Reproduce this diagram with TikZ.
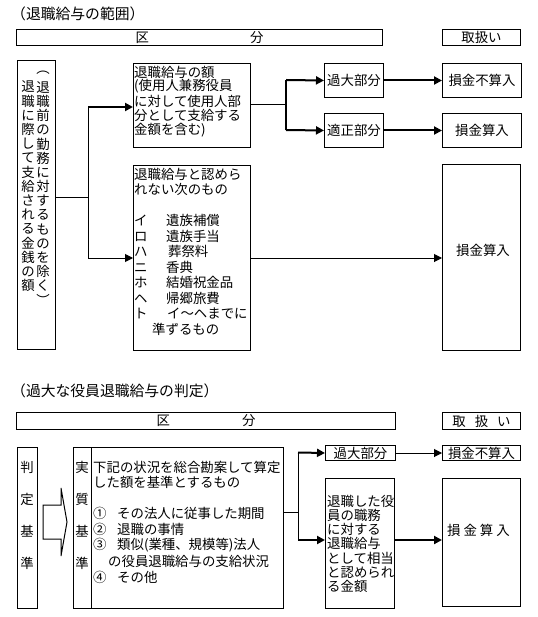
\documentclass[tikz,border=0pt]{standalone}
\usepackage{fontspec}
\setmainfont{Noto Sans CJK JP}
\usetikzlibrary{arrows.meta}
\newcommand\bodyfont{\fontsize{13.4}{15}\selectfont}
\begin{document}
\begin{tikzpicture}[x=1pt,y=-1pt,
  box/.style={draw, line width=1pt, inner sep=0pt, anchor=north west, font=\bodyfont},
  txt/.style={inner sep=0pt, font=\bodyfont},
  ln/.style={txt, anchor=west},
  ttl/.style={inner sep=0pt, anchor=west, font=\fontsize{14.8}{16}\selectfont},
  thinline/.style={line width=1pt},
  heavy/.style={line width=2pt},
  arr/.style={-{Triangle[length=8pt,width=8pt]}},
]
\fill[white] (0,0) rectangle (537,617);
\useasboundingbox (0,0) rectangle (537,617);

% ---------- section 1 ----------
\node[ttl] (t1) at (11,14) {（退職給与の範囲）};
\node[box, minimum width=366pt, minimum height=16pt] (hdr1) at (16,29) {区\hspace{101pt}分};
\node[box, minimum width=78pt, minimum height=16pt] (toriA) at (442,29) {取扱い};

\node[box, minimum width=38pt, minimum height=289pt] (lbox) at (17,60) {};
\foreach \c [count=\i from 0] in {退,職,に,際,し,て,支,給,さ,れ,る,金,銭,の,額}
  \node[txt] (lc\i) at (28,{87+14.2*\i}) {\c};
\foreach \c [count=\i from 0] in {︵,退,職,前,の,勤,務,に,対,す,る,も,の,を,除,く,︶}
  \node[txt] (rc\i) at (43,{73+14.2*\i}) {\c};

\node[box, minimum width=117pt, minimum height=84pt] (b1) at (133,63) {};
\node[ln] (b1t0) at (134,72) {退職給与の額};
\node[ln] (b1t1) at (134,86.5) {(使用人兼務役員};
\node[ln] (b1t2) at (134,101) {に対して使用人部};
\node[ln] (b1t3) at (134,115.5) {分として支給する};
\node[ln] (b1t4) at (134,130) {金額を含む)};

\node[box, minimum width=117pt, minimum height=185pt] (b2) at (133,165) {};
\node[ln] (b2a) at (134,174) {退職給与と認めら};
\node[ln] (b2b) at (134,189.5) {れない次のもの};
\node[ln] (b2c) at (134,220.5) {\makebox[32pt][l]{イ}遺族補償};
\node[ln] (b2d) at (134,236) {\makebox[32pt][l]{ロ}遺族手当};
\node[ln] (b2e) at (134,251.5) {\makebox[34pt][l]{ハ}葬祭料};
\node[ln] (b2f) at (134,267) {\makebox[32pt][l]{ニ}香典};
\node[ln] (b2g) at (134,282.5) {\makebox[32pt][l]{ホ}結婚祝金品};
\node[ln] (b2h) at (134,298) {\makebox[32pt][l]{ヘ}帰郷旅費};
\node[ln] (b2i) at (134,313.5) {\makebox[33pt][l]{ト}イ～ヘまでに};
\node[ln] (b2j) at (152,329) {準ずるもの};

\node[box, minimum width=59pt, minimum height=34pt] (kadai1) at (324,63) {過大部分};
\node[box, minimum width=59pt, minimum height=34pt] (tekisei) at (324,113) {適正部分};
\node[box, minimum width=79pt, minimum height=34pt] (fusan1) at (442,63) {損金不算入};
\node[box, minimum width=79pt, minimum height=34pt] (san1) at (442,113) {損金算入};
\node[box, minimum width=78pt, minimum height=186pt] (san2) at (442,164) {};
\node[txt] (san2t) at (483,250) {損金算入};

\coordinate (j1) at (88,198);
\coordinate (j1t) at (88,107);
\coordinate (j1b) at (88,258);
\draw[thinline] (j1 -| lbox.east) -- (j1);
\draw[thinline] (j1t) -- (j1b);
\draw[heavy,arr] (j1t) -- (j1t -| b1.west);
\draw[thinline,arr] (j1b) -- (j1b -| b2.west);

\coordinate (j2) at (286,105);
\coordinate (j2t) at (286,80);
\coordinate (j2b) at (286,130);
\draw[thinline] (j2 -| b1.east) -- (j2);
\draw[heavy] (j2t) -- (j2b);
\draw[heavy,arr] (j2t) -- (kadai1.west);
\draw[heavy,arr] (j2b) -- (tekisei.west);
\draw[heavy,arr] (kadai1) -- (fusan1);
\draw[heavy,arr] (tekisei) -- (san1);
\draw[thinline,arr] (j1b -| b2.east) -- (j1b -| san2.west);

% ---------- section 2 ----------
\node[ttl] (t2) at (11,391) {（過大な役員退職給与の判定）};
\node[box, minimum width=379pt, minimum height=17pt] (hdr2) at (16,412) {区\hspace{72pt}分};
\node[box, minimum width=78pt, minimum height=17pt] (toriB) at (442,412) {取\hspace{9pt}扱\hspace{9pt}い};

\node[box, minimum width=20pt, minimum height=161pt] (hantei) at (17,447) {};
\node[box, minimum width=210pt, minimum height=161pt] (jitsu) at (73,447) {};
\draw[thinline] ([xshift=18pt]jitsu.north west) -- ([xshift=18pt]jitsu.south west);
\foreach \c [count=\i from 0] in {判,定,基,準}
  \node[txt] (hc\i) at (27,{467+32*\i}) {\c};
\foreach \c [count=\i from 0] in {実,質,基,準}
  \node[txt] (jc\i) at (82,{467+32*\i}) {\c};

\draw[thinline] (43,505) -- (61,505) -- (61,488) -- (67,522) -- (61,556) -- (61,539) -- (43,539) -- cycle;

\node[ln] (jt1) at (93,467) {下記の状況を総合勘案して算定};
\node[ln] (jt2) at (93,482) {した額を基準とするもの};
\node[ln] (jt3) at (93,513) {\makebox[24pt][l]{①}その法人に従事した期間};
\node[ln] (jt4) at (93,529) {\makebox[24pt][l]{②}退職の事情};
\node[ln] (jt5) at (93,545) {\makebox[24pt][l]{③}類似(業種、規模等)法人};
\node[ln] (jt6) at (108,561) {の役員退職給与の支給状況};
\node[ln] (jt7) at (93,577) {\makebox[24pt][l]{④}その他};

\node[box, minimum width=70pt, minimum height=15pt] (kadai2) at (325,445) {過大部分};
\node[box, minimum width=78pt, minimum height=15pt] (fusan2) at (442,445) {損金不算入};
\node[box, minimum width=69pt, minimum height=130pt] (soutou) at (325,478) {};
\foreach \t [count=\i from 0] in {退職した役,員の職務,に対する,退職給与,として相当,と認められ,る金額}
  \node[ln] (st\i) at (327,{501+14.3*\i}) {\t};
\node[box, minimum width=78pt, minimum height=128pt] (san3) at (442,478) {};
\node[txt] (san3t) at (478.5,530) {損\hspace{3pt}金\hspace{3pt}算\hspace{3pt}入};

\coordinate (j4) at (298,512);
\coordinate (j4t) at (298,452.5);
\coordinate (j4b) at (298,540);
\draw[thinline] (j4 -| jitsu.east) -- (j4);
\draw[thinline] (j4t) -- (j4b);
\draw[heavy,arr] (j4t) -- (kadai2.west);
\draw[heavy,arr] (j4b) -- (j4b -| soutou.west);
\draw[thinline,arr] (kadai2) -- (fusan2);
\draw[heavy,arr] (j4b -| soutou.east) -- (j4b -| san3.west);
\end{tikzpicture}
\end{document}
